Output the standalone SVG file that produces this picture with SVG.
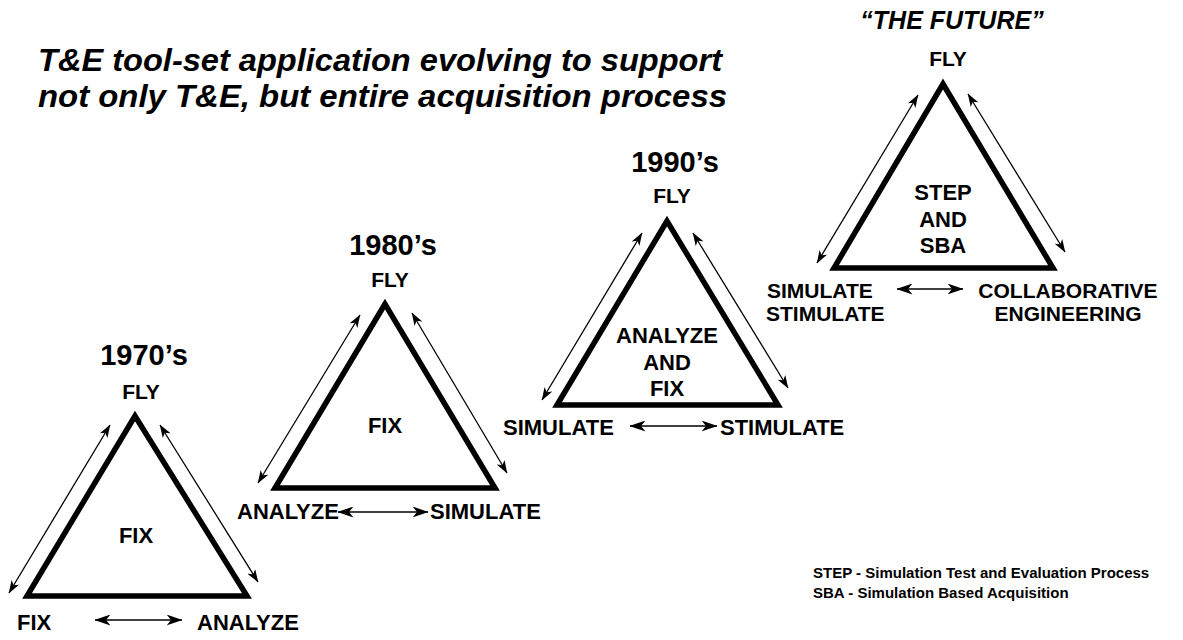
<svg xmlns="http://www.w3.org/2000/svg" width="1183" height="640" viewBox="0 0 1183 640">
<style>
text{font-family:"Liberation Sans",Arial,Helvetica,sans-serif;font-weight:bold;fill:#000}
.title{font-size:32px;font-style:italic}
.year{font-size:29px;text-anchor:middle}
.fly{font-size:21px;text-anchor:middle}
.in{font-size:22px;text-anchor:middle}
.lbl{font-size:22px}
.lbl2{font-size:21px}
.note{font-size:15px}
.fut{font-size:25px;font-style:italic;text-anchor:middle}
.tri{fill:#fff;stroke:#000;stroke-width:5.5;stroke-linejoin:miter}
.side{stroke:#000;stroke-width:1.3;fill:none;marker-start:url(#hs);marker-end:url(#hs)}
.base{stroke:#000;stroke-width:1.5;fill:none;marker-start:url(#hb);marker-end:url(#hb)}
</style>
<defs>
<marker id="hs" viewBox="0 0 13 9" refX="12.5" refY="4.5" markerWidth="13" markerHeight="9" markerUnits="userSpaceOnUse" orient="auto-start-reverse"><path d="M0,0 L13,4.5 L0,9 L3.5,4.5 Z" fill="#000"/></marker>
<marker id="hb" viewBox="0 0 16 11" refX="15.5" refY="5.5" markerWidth="16" markerHeight="11" markerUnits="userSpaceOnUse" orient="auto-start-reverse"><path d="M0,0 L16,5.5 L0,11 L4.5,5.5 Z" fill="#000"/></marker>
</defs>
<rect width="1183" height="640" fill="#fff"/>
<g id="title">
<text class="title" x="38" y="71" textLength="684" lengthAdjust="spacingAndGlyphs">T&amp;E tool-set application evolving to support</text>
<text class="title" x="38" y="107" textLength="689" lengthAdjust="spacingAndGlyphs">not only T&amp;E, but entire acquisition process</text>
</g>
<g id="era1970">
<polygon class="tri" points="135,416 27,596 247,596"/>
<text class="year" x="144" y="365">1970’s</text>
<text class="fly" x="141" y="399">FLY</text>
<text class="in" x="136" y="543">FIX</text>
<text class="lbl" x="17" y="630">FIX</text>
<text class="lbl" x="197" y="630">ANALYZE</text>
</g>
<g id="era1980">
<polygon class="tri" points="385,304 275,488 495,488"/>
<text class="year" x="393" y="255">1980’s</text>
<text class="fly" x="390" y="287">FLY</text>
<text class="in" x="385" y="433">FIX</text>
<text class="lbl" x="237" y="519">ANALYZE</text>
<text class="lbl" x="430" y="519">SIMULATE</text>
</g>
<g id="era1990">
<polygon class="tri" points="667,221 557,405 778,405"/>
<text class="year" x="675" y="172">1990’s</text>
<text class="fly" x="672" y="203">FLY</text>
<text class="in" x="667" y="343">ANALYZE</text>
<text class="in" x="667" y="370">AND</text>
<text class="in" x="667" y="396">FIX</text>
<text class="lbl" x="503" y="435">SIMULATE</text>
<text class="lbl" x="720" y="435">STIMULATE</text>
</g>
<g id="future">
<polygon class="tri" points="943,84 834,268 1053,268"/>
<text class="fut" x="952" y="29">“THE FUTURE”</text>
<text class="fly" x="948" y="66">FLY</text>
<text class="in" x="943" y="200">STEP</text>
<text class="in" x="943" y="227">AND</text>
<text class="in" x="943" y="253">SBA</text>
<text class="lbl2" x="767" y="298">SIMULATE</text>
<text class="lbl2" x="766" y="321">STIMULATE</text>
<text class="lbl2" x="1068" y="298" style="text-anchor:middle">COLLABORATIVE</text>
<text class="lbl2" x="1068" y="321" style="text-anchor:middle">ENGINEERING</text>
</g>
<g id="legend">
<text class="note" x="813" y="578">STEP - Simulation Test and Evaluation Process</text>
<text class="note" x="813" y="598">SBA - Simulation Based Acquisition</text>
</g>
<g id="connectors">
<line class="side" x1="110" y1="425" x2="9" y2="593"/>
<line class="side" x1="160" y1="425" x2="258" y2="582"/>
<line class="base" x1="95" y1="620" x2="182" y2="620"/>
<line class="side" x1="360" y1="315" x2="258" y2="483"/>
<line class="side" x1="412" y1="313" x2="507" y2="473"/>
<line class="base" x1="338" y1="512" x2="428" y2="512"/>
<line class="side" x1="642" y1="233" x2="542" y2="400"/>
<line class="side" x1="693" y1="233" x2="788" y2="388"/>
<line class="base" x1="630" y1="426" x2="717" y2="426"/>
<line class="side" x1="918" y1="95" x2="817" y2="263"/>
<line class="side" x1="968" y1="94" x2="1065" y2="252"/>
<line class="base" x1="897" y1="289" x2="963" y2="289"/>
</g>
</svg>
